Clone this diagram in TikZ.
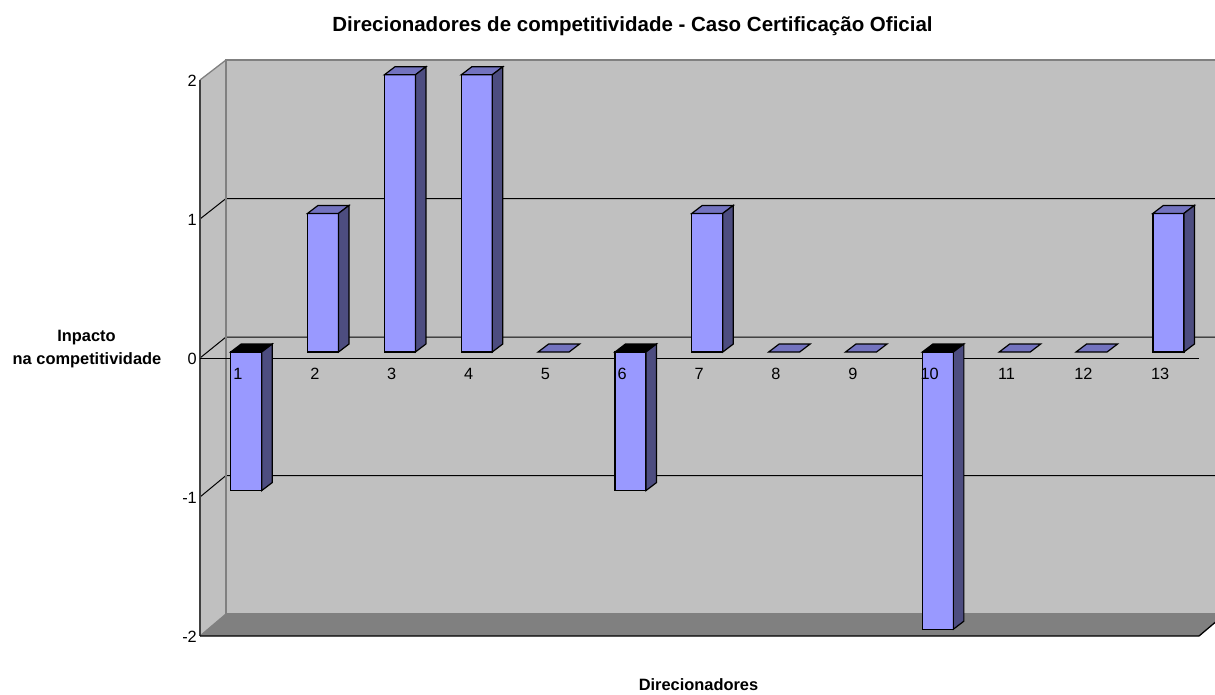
\documentclass[tikz,border=0pt]{standalone}
\usepackage{fontspec}
\setmainfont{Liberation Sans}
\definecolor{wallc}{HTML}{C0C0C0}
\definecolor{floorc}{HTML}{808080}
\definecolor{edgec}{HTML}{808080}
\definecolor{frontc}{HTML}{9999FF}
\definecolor{sidec}{HTML}{4D4D80}
\definecolor{topc}{HTML}{7373BF}
\begin{document}
\begin{tikzpicture}[x=1pt,y=-1pt,
  grid/.style={black,line width=1pt},
  wedge/.style={edgec,line width=1.3pt},
  barline/.style={black,line width=1.2pt,line join=miter},
  frontface/.style={barline,fill=frontc},
  sideface/.style={barline,fill=sidec},
  topface/.style={barline,fill=topc},
  negtop/.style={barline,fill=black},
  ticklab/.style={anchor=base east,font=\fontsize{16.3}{18}\selectfont,inner sep=0pt},
  catlab/.style={anchor=base,font=\fontsize{16.3}{18}\selectfont,inner sep=0pt},
  axtitle/.style={anchor=base,font=\bfseries\fontsize{16.4}{19}\selectfont,inner sep=0pt},
  maintitle/.style={anchor=base,font=\bfseries\fontsize{20.5}{24}\selectfont,inner sep=0pt}]
\useasboundingbox (0,0) rectangle (1215,694);
\begin{scope}
\clip (0,0) rectangle (1215,694);
% back wall
\fill[wallc] (226,60) rectangle (1240,614);
% side wall
\fill[wallc] (200,80) -- (226,60) -- (226,614) -- (200,636) -- cycle;
% floor
\fill[floorc] (200,636) -- (226,614) -- (1225,614) -- (1199,636) -- cycle;
% grid lines
\foreach \yb/\yf in {198.5/219, 337/358, 475.5/497}
  \draw[grid] (1240,\yb) -- (226,\yb) -- (200,\yf);
% wall edges
\draw[wedge] (1240,60) -- (226,60) -- (226,614);
\draw[wedge] (226,60) -- (200,80);
\draw[wedge] (226,614) -- (1225,614);
\draw[wedge] (226,614) -- (200,636);
\draw[black!75,line width=1.3pt] (200,80) -- (200,636);
\draw[black,line width=1.3pt] (200,636) -- (1199,636) -- (1225,614);
% zero line
\draw[grid] (200,358) -- (1199,358);
% bars
\foreach \v [count=\i] in {-1,1,2,2,0,-1,1,0,0,-2,0,0,1} {
  \pgfmathsetmacro\xl{230.7+(\i-1)*76.85}
  \pgfmathsetmacro\xr{\xl+31}
  \pgfmathsetmacro\yv{352-138.6*\v}
  \ifnum\v>0
    \draw[frontface] (\xl,\yv) rectangle (\xr,352);
    \draw[topface] (\xl,\yv) -- (\xl+10.5,\yv-8) -- (\xr+10.5,\yv-8) -- (\xr,\yv) -- cycle;
    \draw[sideface] (\xr,\yv) -- (\xr+10.5,\yv-8) -- (\xr+10.5,344) -- (\xr,352) -- cycle;
  \fi
  \ifnum\v<0
    \draw[frontface] (\xl,352) rectangle (\xr,\yv);
    \draw[negtop] (\xl,352) -- (\xl+10.5,344) -- (\xr+10.5,344) -- (\xr,352) -- cycle;
    \draw[sideface] (\xr,352) -- (\xr+10.5,344) -- (\xr+10.5,\yv-8) -- (\xr,\yv) -- cycle;
  \fi
  \ifnum\v=0
    \draw[topface] (\xl,352) -- (\xl+10.5,344) -- (\xr+10.5,344) -- (\xr,352) -- cycle;
  \fi
}
\end{scope}
% category labels
\foreach \i in {1,...,13}
  \node[catlab] (cat\i) at ({238+(\i-1)*76.85},379) {\i};
% tick labels
\foreach \t/\yy [count=\k] in {2/80,1/219,0/358,-1/497,-2/636}
  \node[ticklab] (tick\k) at (197,\yy+6.5) {\t};
% titles
\node[maintitle] (title) at (632.5,31) {Direcionadores de competitividade - Caso Certificação Oficial};
\node[axtitle] (xtitle) at (698.5,690) {Direcionadores};
\node[axtitle] (ytitleA) at (86.5,341.5) {Inpacto};
\node[axtitle] (ytitleB) at (87,364.5) {na competitividade};
\end{tikzpicture}
\end{document}
